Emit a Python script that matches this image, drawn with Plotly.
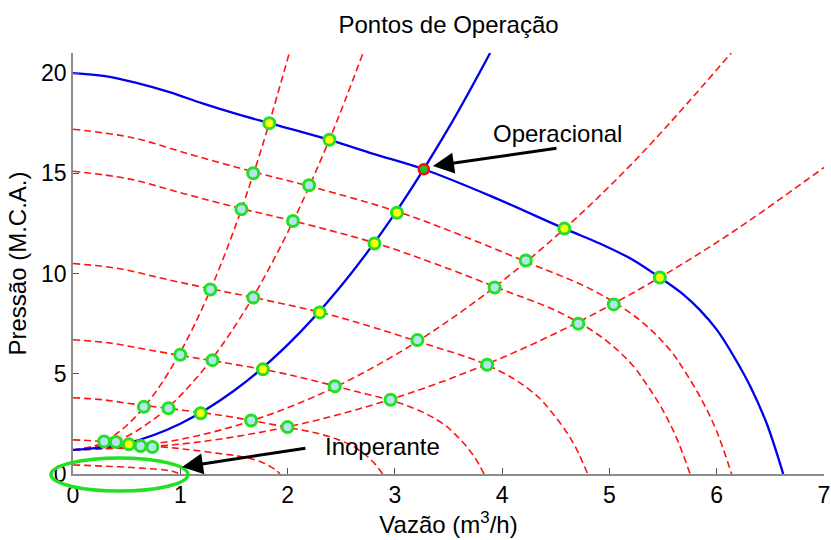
import plotly.graph_objects as go

# Curva da bomba em rotação nominal (m3/h, m.c.a.)
pump_q = [0, 0.3, 0.6, 0.9, 1.2, 1.5, 1.83, 2.39, 2.8, 3.27, 3.9, 4.58, 4.91, 5.22, 5.47, 5.69, 5.84, 6.0, 6.15, 6.31, 6.465, 6.62]
pump_h = [20.0, 19.85, 19.5, 19.05, 18.5, 18.0, 17.5, 16.67, 15.97, 15.2, 13.85, 12.24, 11.5, 10.68, 9.8, 8.95, 8.2, 7.2, 5.95, 4.4, 2.53, 0.0]

# Curvas da bomba em rotações reduzidas
rot1_q = [0, 0.556, 1.113, 1.697, 2.216, 3.033, 3.617, 4.247, 4.841, 5.277, 5.564, 5.703, 5.852, 5.996, 6.139]
rot1_h = [17.2, 16.77, 15.91, 15.05, 14.34, 13.07, 11.91, 10.53, 9.18, 7.70, 6.19, 5.12, 3.78, 2.18, 0.0]
rot2_q = [0, 0.521, 1.043, 1.590, 2.077, 2.841, 3.389, 3.980, 4.536, 4.944, 5.213, 5.344, 5.483, 5.617, 5.752]
rot2_h = [15.1, 14.72, 13.97, 13.21, 12.59, 11.48, 10.46, 9.24, 8.06, 6.76, 5.44, 4.49, 3.32, 1.91, 0.0]
rot3_q = [0, 0.435, 0.870, 1.326, 1.732, 2.369, 2.826, 3.319, 3.782, 4.123, 4.348, 4.456, 4.572, 4.685, 4.797]
rot3_h = [10.5, 10.24, 9.71, 9.19, 8.75, 7.98, 7.27, 6.43, 5.61, 4.70, 3.78, 3.12, 2.31, 1.33, 0.0]
rot4_q = [0, 0.347, 0.695, 1.059, 1.383, 1.893, 2.257, 2.651, 3.021, 3.293, 3.473, 3.560, 3.652, 3.742, 3.832]
rot4_h = [6.7, 6.53, 6.20, 5.86, 5.58, 5.09, 4.64, 4.10, 3.58, 3.00, 2.41, 1.99, 1.47, 0.85, 0.0]
rot5_q = [0, 0.262, 0.523, 0.798, 1.042, 1.425, 1.700, 1.996, 2.275, 2.480, 2.615, 2.681, 2.751, 2.818, 2.886]
rot5_h = [3.8, 3.71, 3.52, 3.33, 3.17, 2.89, 2.63, 2.33, 2.03, 1.70, 1.37, 1.13, 0.84, 0.48, 0.0]
rot6_q = [0, 0.175, 0.350, 0.533, 0.697, 0.953, 1.137, 1.335, 1.522, 1.659, 1.749, 1.793, 1.839, 1.885, 1.930]
rot6_h = [1.7, 1.66, 1.57, 1.49, 1.42, 1.29, 1.18, 1.04, 0.91, 0.76, 0.61, 0.51, 0.37, 0.22, 0.0]
rot7_q = [0, 0.09, 0.18, 0.275, 0.359, 0.49, 0.585, 0.687, 0.783, 0.854, 0.9, 0.923, 0.947, 0.970, 0.993]
rot7_h = [0.45, 0.439, 0.416, 0.394, 0.375, 0.342, 0.312, 0.275, 0.240, 0.201, 0.162, 0.134, 0.099, 0.057, 0.0]

# Curva do sistema (real) e curvas de sistema alternativas
sys_q = [0, 0.5, 1.0, 1.5, 2.0, 2.5, 3.0, 3.5, 3.888]
sys_h = [1.2, 1.53, 2.51, 4.15, 6.44, 9.39, 12.99, 17.25, 21.0]
sysA_q = [0, 0.25, 0.5, 0.75, 1.0, 1.25, 1.5, 1.75, 2.016]
sysA_h = [1.2, 1.50, 2.42, 3.94, 6.07, 8.81, 12.16, 16.11, 21.0]
sysB_q = [0, 0.4, 0.8, 1.2, 1.6, 2.0, 2.4, 2.703]
sysB_h = [1.2, 1.63, 2.93, 5.10, 8.14, 12.04, 16.81, 21.0]
sysC_q = [0, 0.75, 1.5, 2.25, 3.0, 3.75, 4.5, 5.25, 6.135]
sysC_h = [1.2, 1.50, 2.38, 3.86, 5.93, 8.60, 11.85, 15.70, 21.0]
sysD_q = [0, 1, 2, 3, 4, 5, 6, 7]
sysD_h = [1.2, 1.49, 2.35, 3.79, 5.80, 8.39, 11.55, 15.29]

# Pontos de operação sobre as curvas em azul
blue_pts_q = [1.83, 2.39, 4.58, 5.47, 3.02, 2.81, 2.30, 1.77, 1.19, 0.52]
blue_pts_h = [17.5, 16.67, 12.24, 9.8, 13.03, 11.5, 8.06, 5.22, 3.03, 1.48]
# Pontos de operação sobre as curvas tracejadas
red_pts_q = [1.68, 1.57, 1.28, 1.00, 0.66, 0.29,
             2.20, 2.05, 1.68, 1.30, 0.89, 0.40,
             4.22, 3.93, 3.21, 2.44, 1.66, 0.63,
             5.04, 4.71, 3.86, 2.96, 2.00, 0.74]
red_pts_h = [15.0, 13.2, 9.2, 5.95, 3.35, 1.62,
             14.4, 12.62, 8.8, 5.68, 3.28, 1.60,
             10.65, 9.3, 6.68, 4.38, 2.67, 1.40,
             8.46, 7.5, 5.45, 3.70, 2.34, 1.35]
# Ponto operacional
op_q = [3.27]
op_h = [15.2]

RED = "#ff1414"
BLUE = "#0000ee"
GREEN = "#22e022"
DASH = "7px,4px"

fig = go.Figure()

for q, h in [(rot1_q, rot1_h), (rot2_q, rot2_h), (rot3_q, rot3_h), (rot4_q, rot4_h),
             (rot5_q, rot5_h), (rot6_q, rot6_h), (rot7_q, rot7_h),
             (sysA_q, sysA_h), (sysB_q, sysB_h), (sysC_q, sysC_h), (sysD_q, sysD_h)]:
    fig.add_trace(go.Scatter(x=q, y=h, mode="lines", line=dict(color=RED, width=1.6, dash=DASH, shape="spline"),
                             hoverinfo="skip"))

fig.add_trace(go.Scatter(x=sys_q, y=sys_h, mode="lines", line=dict(color=BLUE, width=2.3, shape="spline")))
fig.add_trace(go.Scatter(x=pump_q, y=pump_h, mode="lines", line=dict(color=BLUE, width=2.3, shape="spline")))

fig.add_trace(go.Scatter(x=red_pts_q, y=red_pts_h, mode="markers", cliponaxis=False,
                         marker=dict(size=11, color="#b4e6f0", line=dict(color=GREEN, width=3))))
fig.add_trace(go.Scatter(x=blue_pts_q, y=blue_pts_h, mode="markers", cliponaxis=False,
                         marker=dict(size=11, color="#ffff10", line=dict(color=GREEN, width=3))))
fig.add_trace(go.Scatter(x=op_q, y=op_h, mode="markers", cliponaxis=False,
                         marker=dict(size=10, color="#20c020", line=dict(color="#ee1111", width=2.5))))

# Setas e rótulos
fig.add_annotation(x=3.355, y=15.36, ax=4.52, ay=16.26, axref="x", ayref="y", xref="x", yref="y",
                   text="", showarrow=True, arrowhead=2, arrowsize=1.4, arrowwidth=3, arrowcolor="black")
fig.add_annotation(x=4.52, y=17.0, xref="x", yref="y", text="Operacional", showarrow=False,
                   font=dict(size=24, color="black"))
fig.add_annotation(x=1.016, y=0.35, ax=2.18, ay=1.30, axref="x", ayref="y", xref="x", yref="y",
                   text="", showarrow=True, arrowhead=2, arrowsize=1.4, arrowwidth=3, arrowcolor="black")
fig.add_annotation(x=2.885, y=1.35, xref="x", yref="y", text="Inoperante", showarrow=False,
                   font=dict(size=24, color="black"))

# Destaque da região inoperante
fig.add_shape(type="circle", xref="paper", yref="paper", x0=-0.0293, x1=0.1531, y0=-0.0404, y1=0.038,
              line=dict(color=GREEN, width=3.5), layer="above")

fig.update_layout(
    width=831, height=540,
    margin=dict(l=73, r=7, t=53, b=66),
    plot_bgcolor="white", paper_bgcolor="white",
    font=dict(family="Liberation Sans, Arial, sans-serif", size=24, color="black"),
    showlegend=False,
    title=dict(text="Pontos de Operação", x=0.5, xref="paper", xanchor="center",
               y=1 - 25 / 540, yref="container", yanchor="middle", font=dict(size=24)),
)
fig.update_xaxes(range=[0, 7], tickvals=[0, 1, 2, 3, 4, 5, 6, 7], showline=True, linecolor="#8c8c8c",
                 linewidth=1.5, ticks="inside", ticklen=6, tickcolor="#555555", showgrid=False,
                 zeroline=False, tickfont=dict(size=23), automargin=False,
                 title=dict(text="Vazão (m<sup>3</sup>/h)", font=dict(size=24), standoff=6))
fig.update_yaxes(range=[0, 21], tickvals=[0, 5, 10, 15, 20], showline=True, linecolor="#8c8c8c",
                 linewidth=1.5, ticks="inside", ticklen=6, tickcolor="#555555", showgrid=False,
                 zeroline=False, tickfont=dict(size=23), automargin=False,
                 title=dict(text="Pressão (M.C.A.)", font=dict(size=24), standoff=8))

fig.write_html("out.html")
